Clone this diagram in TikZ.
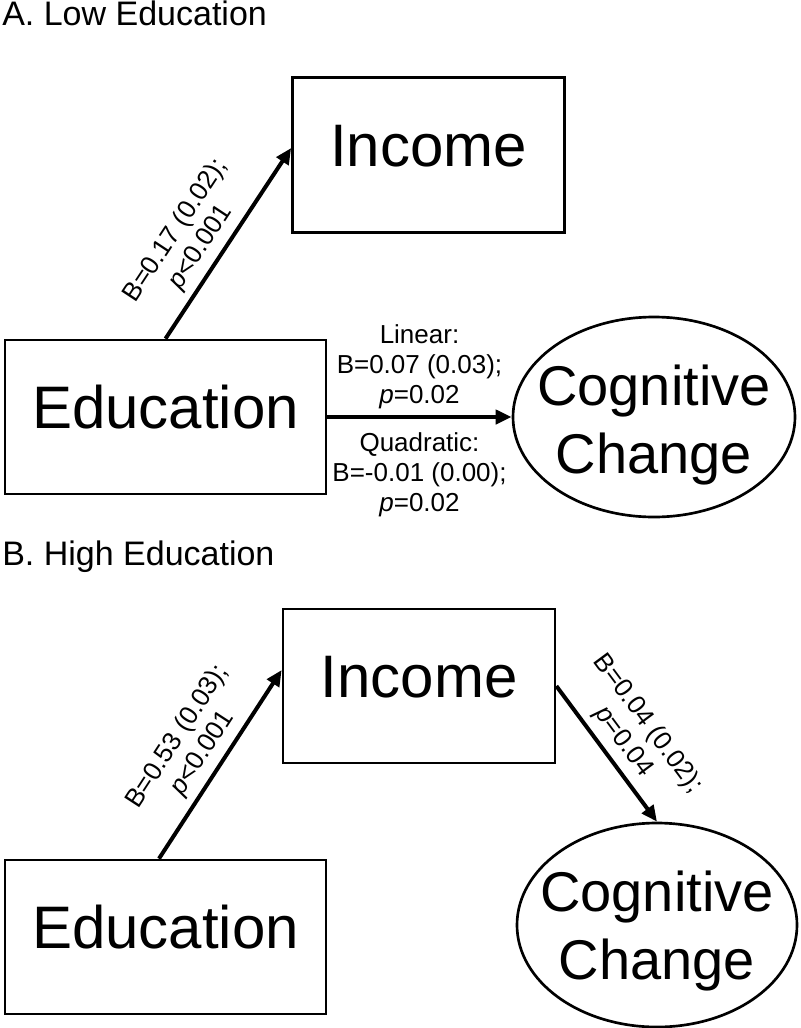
\documentclass[tikz,border=0pt]{standalone}
\usepackage{fontspec}
\setmainfont{Liberation Sans}
\usetikzlibrary{arrows.meta,shapes.geometric}
\begin{document}
\begin{tikzpicture}[x=0.75pt,y=-0.75pt,
  bigfont/.style={font=\fontsize{45}{54}\selectfont},
  box/.style={draw, line width=2pt, rectangle, inner sep=0pt, bigfont,
              text height=33pt, text depth=16pt},
  incbox/.style={box, minimum width=204pt, minimum height=116pt},
  edubox/.style={box, minimum width=240.75pt, minimum height=115.5pt},
  oval/.style={draw, line width=2pt, ellipse, inner sep=0pt},
  ovaltext/.style={align=center, inner sep=0pt,
                   font=\fontsize{42}{51}\selectfont},
  title/.style={anchor=base west, inner sep=0pt, font=\fontsize{25.5}{30}\selectfont},
  arr/.style={line width=3pt, -{Triangle[length=12pt,width=10.5pt]}},
  lab/.style={align=center, inner sep=0pt, font=\fontsize{19.5}{22.5}\selectfont},
]
\useasboundingbox (0,0) rectangle (800,1028);

% ---------- Panel A ----------
\node[title] (titA) at (2,25) {A. Low Education};
\node[incbox] (incA) at (428.5,155) {Income};
\node[edubox] (eduA) at (165.5,417) {Education};
\node[oval, minimum width=211.5pt, minimum height=150pt] (cogA) at (654,417) {};
\node[ovaltext, yshift=-6.25pt] (cogAt) at (cogA) {Cognitive\\Change};

\draw[arr] (eduA.north) -- node[lab, sloped, above=5pt, pos=0.42] (labA1)
  {B=0.17 (0.02);\\\textit{p}<0.001} ([yshift=5.25pt]incA.west);
\draw[arr] (eduA.east) -- (cogA.west)
  node[lab, midway, above=4.5pt] (labA2) {Linear:\\B=0.07 (0.03);\\\textit{p}=0.02}
  node[lab, midway, below=10pt] (labA3) {Quadratic:\\B=-0.01 (0.00);\\\textit{p}=0.02};

% ---------- Panel B ----------
\node[title] (titB) at (2,565) {B. High Education};
\node[incbox, minimum height=115.5pt] (incB) at (419,686) {Income};
\node[edubox] (eduB) at (165.5,937) {Education};
\node[oval, minimum width=210pt, minimum height=153pt] (cogB) at (657,925) {};
\node[ovaltext, yshift=-4.75pt] (cogBt) at (cogB) {Cognitive\\Change};

\draw[arr] ([xshift=-4.9pt]eduB.north) -- node[lab, sloped, above=5pt, pos=0.5] (labB1)
  {B=0.53 (0.03);\\\textit{p}<0.001} ([yshift=12pt]incB.west);
\draw[arr] (incB.east) -- node[lab, sloped, above=5pt, pos=0.5] (labB2)
  {B=0.04 (0.02);\\\textit{p}=0.04} (cogB.north);
\end{tikzpicture}
\end{document}
